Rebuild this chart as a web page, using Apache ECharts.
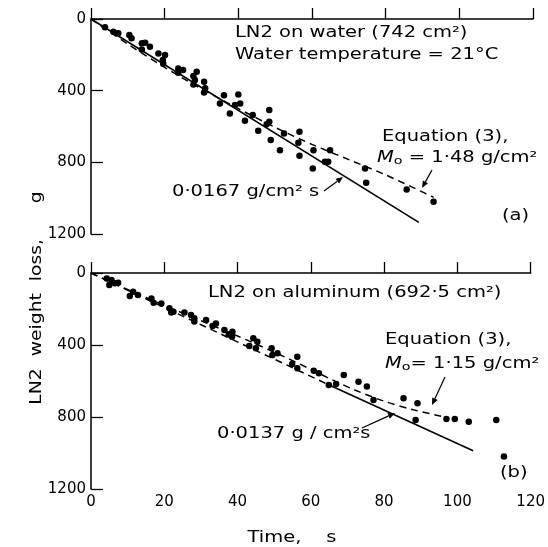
<!DOCTYPE html>
<html><head><meta charset="utf-8">
<script src="https://cdn.jsdelivr.net/npm/echarts@6.0.0/dist/echarts.min.js"></script>
<style>html,body{margin:0;padding:0;background:#fff}#c{width:548px;height:547px}</style>
</head><body><div id="c"></div><script>
// ---- data (time s, weight loss g) ----
const xTicks = [0, 20, 40, 60, 80, 100, 120];
const yTicks = [0, 400, 800, 1200];

const waterPoints = [[3.8,46],[6.1,71],[7.4,80],[10.4,89],[11,108],[13.8,136],[14.7,132],[16,155],[13.8,170],[18.3,192],[20.1,201],[19.5,229],[19.6,250],[23.7,276],[25,285],[23.7,300],[28.7,294],[27.8,318],[28.2,341],[27.8,365],[30.7,350],[31,387],[30.7,410],[36.1,425],[35,471],[40,421],[39.1,480],[40.5,471],[37.7,527],[41.8,568],[43.9,536],[45.4,624],[47.7,587],[48.4,508],[48.4,574],[48.8,676],[51.3,732],[52.4,639],[56.6,629],[56.3,691],[56.6,763],[60.4,732],[60.2,834],[63.5,797],[64.9,732],[64.4,797],[74.4,834],[74.7,914],[85.7,951],[93,1020]];
const waterFit = [[0,0],[89,1135]];
const waterEq3 = [[0,0],[10,140],[20,270],[30,390],[40,500],[50,605],[60,700],[70,785],[80,870],[93,995]];

const aluPoints = [[4.3,30],[5.6,39],[5,67],[6.5,57],[7.4,54],[11.5,104],[10.6,128],[12.8,122],[16.5,141],[17.1,165],[19.2,169],[21.4,196],[22.5,215],[21.9,220],[25.5,220],[27.3,233],[28.2,252],[28.2,270],[31.4,261],[33.2,294],[34.1,280],[36.4,317],[37.6,341],[38.5,354],[38.6,326],[44.3,363],[45.4,382],[43.2,406],[45,418],[49.3,418],[49.5,456],[50.9,446],[56.3,465],[54.9,506],[56.3,529],[60.8,543],[62.2,557],[64.9,622],[66.9,617],[69,567],[73,604],[75.3,631],[77.1,706],[85.3,696],[89.1,724],[88.6,817],[97,811],[99.3,811],[103.1,826],[110.6,817],[112.7,1020]];
const aluFitDashed = [[0,0],[65.3,625]];
const aluFitSolid = [[65.3,625],[104.3,988]];
const aluEq3 = [[0,0],[10,92],[20,180],[30,265],[40,350],[50,440],[60,535],[66,595],[72,650],[80,712],[88,760],[96.6,800]];

// ---- chart ----
const FONT = 'DejaVu Sans';
const SX = 1.3;
const chart = echarts.init(document.getElementById('c'), null, {renderer: 'canvas'});

function xAxis(idx, showLabels) {
  return {
    type: 'value', gridIndex: idx, min: xTicks[0], max: xTicks[xTicks.length-1], interval: xTicks[1]-xTicks[0],
    axisLine: {show: true, lineStyle: {color: '#000', width: 1.5}},
    axisTick: {show: true, inside: true, length: 11, lineStyle: {color: '#000', width: 1.3}},
    axisLabel: {show: showLabels, color: '#000', fontFamily: FONT, fontSize: 15, margin: 6, formatter: v => String(v)},
    splitLine: {show: false}
  };
}
function yAxis(idx) {
  return {
    type: 'value', gridIndex: idx, inverse: true, min: yTicks[0], max: yTicks[yTicks.length-1], interval: yTicks[1]-yTicks[0],
    axisLine: {show: true, lineStyle: {color: '#000', width: 1.5}},
    axisTick: {show: true, inside: true, length: 12, lineStyle: {color: '#000', width: 1.3}},
    axisLabel: {color: '#000', fontFamily: FONT, fontSize: 15, margin: 5, formatter: v => String(v)},
    splitLine: {show: false}
  };
}
const dash = {color: '#000', width: 1.5, type: [7, 5]};
const solid = {color: '#000', width: 1.6};

function txt(x, y, text, extra) {
  return {type: 'text', x, y, scaleX: SX, silent: true, style: Object.assign({text, fill: '#000', font: '15px ' + FONT, textAlign: 'left', textVerticalAlign: 'middle'}, extra || {})};
}
function arrow(x1, y1, x2, y2) {
  const a = Math.atan2(y2 - y1, x2 - x1), L = 7, W = 3;
  const bx = x2 - L * Math.cos(a), by = y2 - L * Math.sin(a);
  return {type: 'group', silent: true, children: [
    {type: 'line', shape: {x1, y1, x2: bx, y2: by}, style: {stroke: '#000', lineWidth: 1.2}},
    {type: 'polygon', shape: {points: [[x2, y2], [bx - W * Math.sin(a), by + W * Math.cos(a)], [bx + W * Math.sin(a), by - W * Math.cos(a)]]}, style: {fill: '#000'}}
  ]};
}
const mRich = {i: {fontStyle: 'italic', fontFamily: FONT, fontSize: 15, fill: '#000'}, s: {fontFamily: FONT, fontSize: 11, fill: '#000', padding: [6, 0, 0, 0]}, n: {fontFamily: FONT, fontSize: 15, fill: '#000'}};

chart.setOption({
  backgroundColor: '#fff',
  animation: false,
  grid: [
    {left: 91, right: 15, top: 19, height: 215},
    {left: 91, right: 15, top: 273, height: 216}
  ],
  xAxis: [xAxis(0, false), xAxis(1, true)],
  yAxis: [yAxis(0), yAxis(1)],
  series: [
    {type: 'line', xAxisIndex: 0, yAxisIndex: 0, data: waterFit, showSymbol: false, lineStyle: solid, z: 2},
    {type: 'line', xAxisIndex: 0, yAxisIndex: 0, data: waterEq3, showSymbol: false, smooth: 0.3, lineStyle: dash, z: 2},
    {type: 'scatter', xAxisIndex: 0, yAxisIndex: 0, data: waterPoints, symbolSize: 6.5, itemStyle: {color: '#000', opacity: 1}, z: 3},
    {type: 'line', xAxisIndex: 1, yAxisIndex: 1, data: aluFitDashed, showSymbol: false, lineStyle: dash, z: 2},
    {type: 'line', xAxisIndex: 1, yAxisIndex: 1, data: aluFitSolid, showSymbol: false, lineStyle: solid, z: 2},
    {type: 'line', xAxisIndex: 1, yAxisIndex: 1, data: aluEq3, showSymbol: false, smooth: 0.3, lineStyle: dash, z: 2},
    {type: 'scatter', xAxisIndex: 1, yAxisIndex: 1, data: aluPoints, symbolSize: 6.5, itemStyle: {color: '#000', opacity: 1}, z: 3}
  ],
  graphic: [
    txt(235, 33, 'LN2 on water (742 cm²)'),
    txt(235, 55, 'Water temperature = 21°C'),
    txt(382, 137, 'Equation (3),'),
    txt(377, 158, '{i|M}{s|o}{n| = 1·48 g/cm²}', {rich: mRich}),
    arrow(432, 170, 422, 188),
    txt(172, 192, '0·0167 g/cm² s'),
    arrow(324, 191, 343, 177),
    txt(502, 216, '(a)'),
    txt(208, 293, 'LN2 on aluminum (692·5 cm²)'),
    txt(385, 340, 'Equation (3),'),
    txt(385, 364, '{i|M}{s|o}{n|= 1·15 g/cm²}', {rich: mRich}),
    arrow(445, 377, 432, 405),
    txt(217, 434, '0·0137 g / cm²s'),
    arrow(362, 428, 395, 413),
    txt(500, 473, '(b)'),
    {type: 'text', x: 37, y: 298, rotation: Math.PI / 2, scaleX: 1.25, silent: true,
     style: {text: 'LN2  weight  loss,      g', fill: '#000', font: '15px ' + FONT, textAlign: 'center', textVerticalAlign: 'middle'}},
    txt(292, 538, 'Time,    s', {textAlign: 'center'})
  ]
});
</script></body></html>
